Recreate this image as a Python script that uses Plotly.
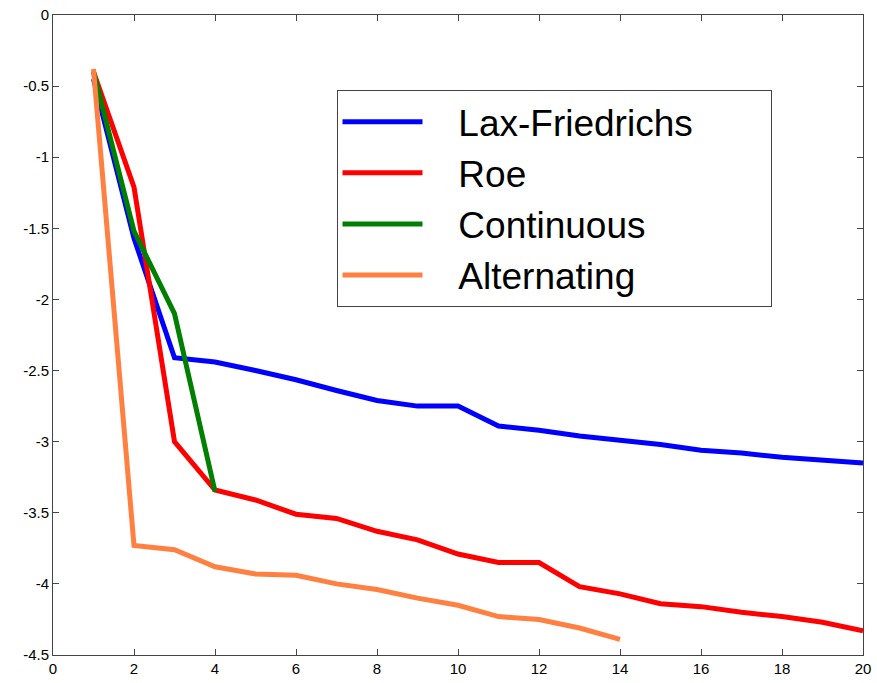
import plotly.graph_objects as go

iterations = list(range(1, 21))
lax_friedrichs = [-0.45, -1.57, -2.41, -2.44, -2.50, -2.565, -2.64, -2.71, -2.75, -2.75,
                  -2.89, -2.92, -2.96, -2.99, -3.02, -3.06, -3.08, -3.11, -3.13, -3.15]
roe = [-0.40, -1.21, -3.00, -3.34, -3.41, -3.51, -3.54, -3.63, -3.69, -3.79,
       -3.85, -3.85, -4.02, -4.07, -4.14, -4.16, -4.20, -4.23, -4.27, -4.33]
continuous_x = [1, 2, 3, 4]
continuous = [-0.40, -1.52, -2.10, -3.35]
alternating_x = list(range(1, 15))
alternating = [-0.38, -3.73, -3.76, -3.88, -3.93, -3.94, -4.00, -4.04, -4.10, -4.15,
               -4.23, -4.25, -4.31, -4.39]

series_names = ["Lax-Friedrichs", "Roe", "Continuous", "Alternating"]

x_ticks = list(range(0, 21, 2))
y_ticks = [0, -0.5, -1, -1.5, -2, -2.5, -3, -3.5, -4, -4.5]
y_ticktext = ["0", "-0.5", "-1", "-1.5", "-2", "-2.5", "-3", "-3.5", "-4", "-4.5"]

NB = "\u00a0"


def legend_label(name):
    return NB * 3 + name + NB * 7


fig = go.Figure()
fig.add_trace(go.Scatter(x=iterations, y=lax_friedrichs, mode="lines", name=legend_label(series_names[0]),
                         line=dict(color="#0000FF", width=5)))
fig.add_trace(go.Scatter(x=iterations, y=roe, mode="lines", name=legend_label(series_names[1]),
                         line=dict(color="#FF0000", width=5)))
fig.add_trace(go.Scatter(x=continuous_x, y=continuous, mode="lines", name=legend_label(series_names[2]),
                         line=dict(color="#008000", width=5)))
fig.add_trace(go.Scatter(x=alternating_x, y=alternating, mode="lines", name=legend_label(series_names[3]),
                         line=dict(color="#FF8040", width=5)))

axis_common = dict(showline=True, linecolor="#444", linewidth=1, mirror="allticks",
                   ticks="inside", ticklen=6, tickcolor="#444", showgrid=False,
                   zeroline=False, automargin=False,
                   tickfont=dict(family="Liberation Sans, Arial", size=15, color="black"))

fig.update_xaxes(range=[0, 20], tickvals=x_ticks, ticktext=[str(v) for v in x_ticks], **axis_common)
fig.update_yaxes(range=[-4.5, 0], tickvals=y_ticks, ticktext=y_ticktext, **axis_common)

fig.update_layout(
    width=877, height=683,
    margin=dict(l=53, r=14, t=15, b=28, autoexpand=False),
    plot_bgcolor="white", paper_bgcolor="white",
    showlegend=True,
    legend=dict(x=0.35, y=0.8825, xanchor="left", yanchor="top",
                bgcolor="white", bordercolor="#444", borderwidth=1,
                font=dict(family="Liberation Sans, Arial", size=37, color="black"),
                itemwidth=80, tracegroupgap=0),
)

fig.write_html("out.html")
